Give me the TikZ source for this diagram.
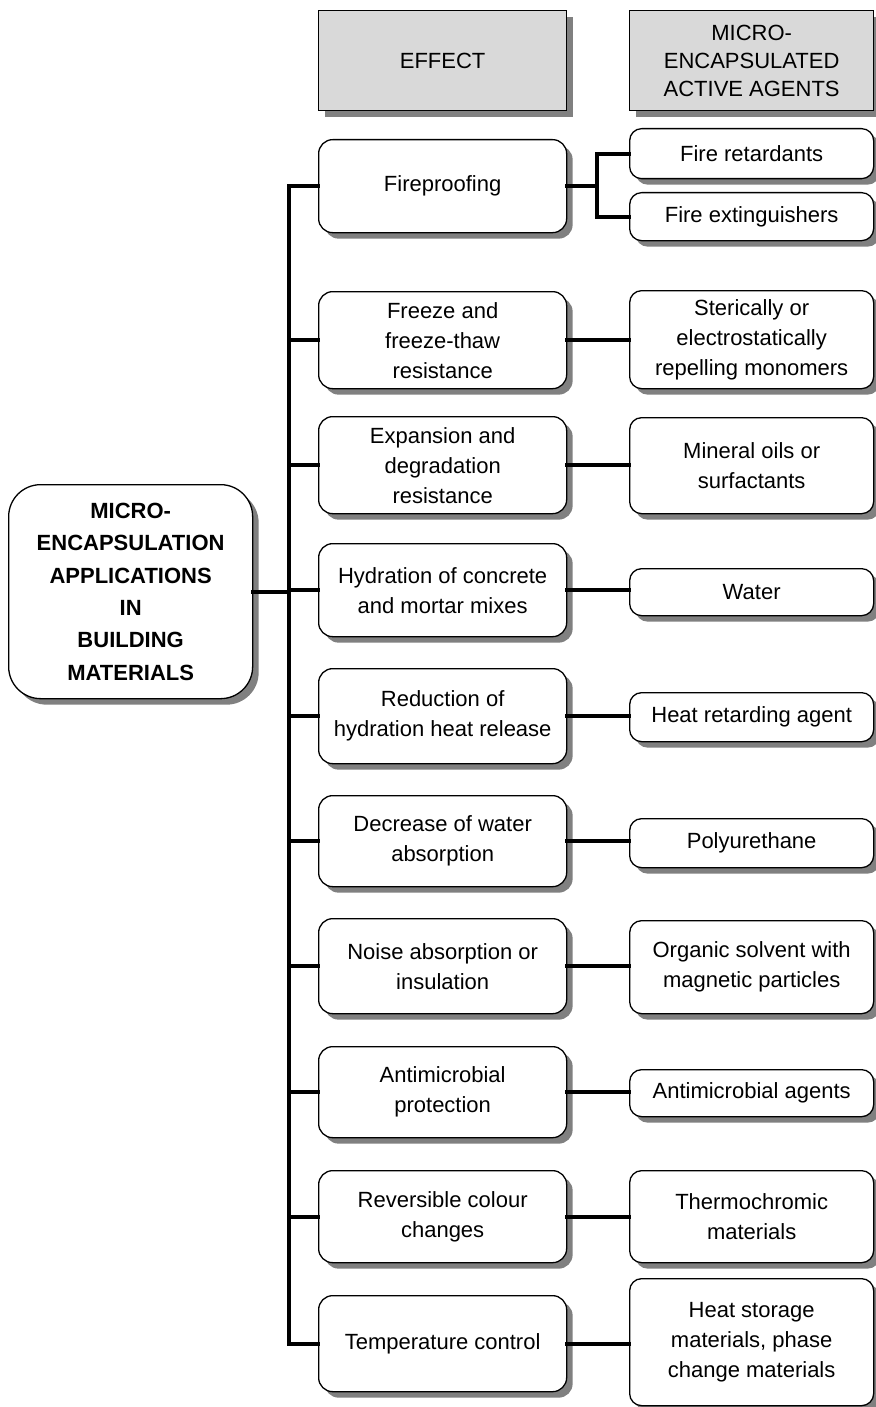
\documentclass[tikz,border=0pt]{standalone}
\usepackage{fontspec}
\setmainfont{Liberation Sans}
\usetikzlibrary{shadows}
\tikzset{
  box/.style={draw=black, line width=1.3pt, fill=white, rounded corners=14pt,
    inner sep=0pt, align=center, anchor=north west,
    font=\fontsize{22}{30}\selectfont,
    drop shadow={shadow xshift=6pt, shadow yshift=-6pt, fill=black!50, opacity=1}},
  ebox/.style={box, minimum width=248pt},
  abox/.style={box, minimum width=244pt, rounded corners=12pt},
  hdr/.style={box, rounded corners=0pt, fill=black!15, font=\fontsize{22}{28}\selectfont},
  mainbox/.style={box, rounded corners=32pt, font=\bfseries\fontsize{22}{32.4}\selectfont},
  link/.style={line width=4pt, line cap=rect}
}
\begin{document}
\begin{tikzpicture}[x=1pt,y=-1pt]
\useasboundingbox (0,0) rectangle (875,1407);
% headers
\node[hdr, minimum width=248pt, minimum height=100pt] (h1) at (318,10) {EFFECT};
\node[hdr, minimum width=244pt, minimum height=100pt] (h2) at (629,10) {MICRO-\\ENCAPSULATED\\ACTIVE AGENTS};
% main
\node[mainbox, minimum width=244pt, minimum height=214pt] (m) at (8,484) {MICRO-\\ENCAPSULATION\\APPLICATIONS\\IN\\BUILDING\\MATERIALS};
% effects
\node[ebox, minimum height=93pt] (e1) at (318,139) {Fireproofing};
\node[ebox, minimum height=97pt] (e2) at (318,291) {Freeze and\\freeze-thaw\\resistance};
\node[ebox, minimum height=97pt] (e3) at (318,416) {Expansion and\\degradation\\resistance};
\node[ebox, minimum height=93pt] (e4) at (318,543) {Hydration of concrete\\and mortar mixes};
\node[ebox, minimum height=95pt] (e5) at (318,668) {Reduction of\\hydration heat release};
\node[ebox, minimum height=91pt] (e6) at (318,795) {Decrease of water\\absorption};
\node[ebox, minimum height=95pt] (e7) at (318,918) {Noise absorption or\\insulation};
\node[ebox, minimum height=91pt] (e8) at (318,1046) {Antimicrobial\\protection};
\node[ebox, minimum height=92pt] (e9) at (318,1170) {Reversible colour\\changes};
\node[ebox, minimum height=96pt] (e10) at (318,1295) {Temperature control};
% agents
\node[abox, minimum height=50pt] (a1) at (629,128) {Fire retardants};
\node[abox, minimum height=48pt] (a2) at (629,192) {Fire extinguishers};
\node[abox, minimum height=98pt] (a3) at (629,290) {Sterically or\\electrostatically\\repelling monomers};
\node[abox, minimum height=96pt] (a4) at (629,417) {Mineral oils or\\surfactants};
\node[abox, minimum height=47pt] (a5) at (629,568) {Water};
\node[abox, minimum height=49pt] (a6) at (629,692) {Heat retarding agent};
\node[abox, minimum height=49pt] (a7) at (629,818) {Polyurethane};
\node[abox, minimum height=93pt] (a8) at (629,920) {Organic solvent with\\magnetic particles};
\node[abox, minimum height=47pt] (a9) at (629,1069) {Antimicrobial agents};
\node[abox, minimum height=92pt] (a10) at (629,1170) {Thermochromic\\materials};
\node[abox, minimum height=127pt] (a11) at (629,1278) {Heat storage\\materials, phase\\change materials};
% trunk
\coordinate (tx) at (289,0);
\coordinate (fx) at (597,0);
\draw[link] (m.east) -- (m.east -| tx);
\draw[link] (e1.west -| tx) -- (e10.west -| tx);
\foreach \i in {1,...,10} {\draw[link] (e\i.west -| tx) -- (e\i.west);}
% fire branch
\draw[link] (e1.east) -- (e1.east -| fx);
\draw[link, line join=miter] (a1.west) -| (fx |- a2.west) -- (a2.west);
% effect to agent
\draw[link] (e2.east) -- (e2.east -| a3.west);
\draw[link] (e3.east) -- (e3.east -| a4.west);
\draw[link] (e4.east) -- (e4.east -| a5.west);
\draw[link] (e5.east) -- (e5.east -| a6.west);
\draw[link] (e6.east) -- (e6.east -| a7.west);
\draw[link] (e7.east) -- (e7.east -| a8.west);
\draw[link] (e8.east) -- (e8.east -| a9.west);
\draw[link] (e9.east) -- (e9.east -| a10.west);
\draw[link] (e10.east) -- (e10.east -| a11.west);
\end{tikzpicture}
\end{document}
